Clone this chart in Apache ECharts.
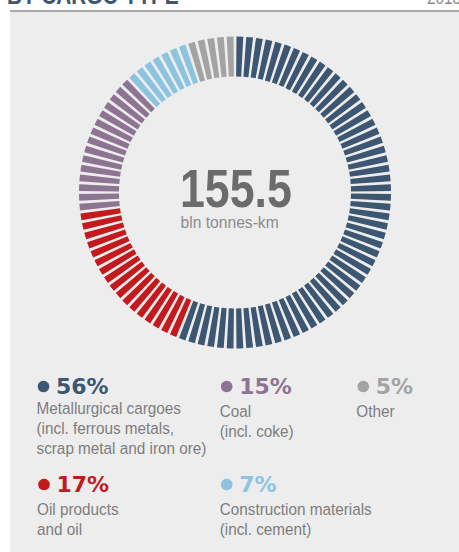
<!DOCTYPE html>
<html>
<head>
<meta charset="utf-8">
<script src="https://cdn.jsdelivr.net/npm/echarts@6/dist/echarts.min.js"></script>
<style>
  html, body { margin: 0; padding: 0; background: #fff; }
  #chart { width: 459px; height: 552px; }
</style>
</head>
<body>
<div id="chart"></div>
<script>
// cargo groups, clockwise from 12 o'clock
var categories = ['Metallurgical cargoes', 'Oil products', 'Coal', 'Construction materials', 'Other'];
var notes = ['(incl. ferrous metals,\nscrap metal and iron ore)', 'and oil', '(incl. coke)', '(incl. cement)', ''];
var shares = [56, 17, 15, 7, 5];
var colors = ['#3d5672', '#c41a1e', '#8e7493', '#8cc4e0', '#a3a3a3'];
var total = '155.5';
var unit = 'bln tonnes-km';
var heading = 'BY CARGO TYPE';
var year = '2018';

var SANS = '"Liberation Sans", Arial, sans-serif';

// legend slot per category: dot x, baseline of the % line, baseline of first text line
var slots = [
  [43.5, 394, 414],
  [44, 492, 515],
  [226.7, 394, 417],
  [226.7, 492, 515],
  [363.3, 394, 417]
];

var myChart = echarts.init(document.getElementById('chart'), null, { renderer: 'svg' });

// one slice per percent -> the ring of bars
var slices = [];
shares.forEach(function (s, i) {
  for (var k = 0; k < s; k++) {
    slices.push({ value: 1, name: categories[i], itemStyle: { color: colors[i] } });
  }
});

// text helper: place by baseline, squeeze horizontally to mimic a condensed face
function txt(x, base, str, size, color, weight, squeeze, family) {
  return {
    type: 'text', x: x, y: base - size * 0.35, silent: true,
    scaleX: squeeze || 1,
    style: {
      text: str, fill: color, fontSize: size, fontWeight: weight || 'normal',
      fontFamily: family || SANS, align: 'left', verticalAlign: 'middle'
    }
  };
}

var graphics = [
  { type: 'rect', shape: { x: 10, y: 12, width: 449, height: 540 }, style: { fill: '#ededed' }, silent: true },
  { type: 'rect', shape: { x: 10, y: 10, width: 449, height: 2 }, style: { fill: '#aaaaaa' }, silent: true },
  txt(7, 4, heading, 26, '#3d5672', 'bold', 0.8),
  txt(427, 4, year, 18, '#8a8a8a', 'normal', 0.85),
  txt(180, 207.3, total, 54.5, '#6b6b6b', 'bold', 0.82),
  txt(180.5, 227.3, unit, 17, '#8c8c8c', 'normal', 0.92)
];

categories.forEach(function (c, i) {
  var s = slots[i];
  graphics.push({
    type: 'circle', silent: true,
    shape: { cx: s[0], cy: s[1] - 7.5, r: 5.8 },
    style: { fill: colors[i] }
  });
  graphics.push(txt(s[0] + 12.5, s[1], shares[i] + '%', 22, colors[i], 'bold', 1, '"DejaVu Sans", sans-serif'));
  var lines = [c].concat(notes[i] ? notes[i].split('\n') : []);
  lines.forEach(function (ln, j) {
    graphics.push(txt(s[0] - 7, s[2] + j * 19.8, ln, 17, '#7d7d7d', 'normal', 0.9));
  });
});

var option = {
  backgroundColor: '#ffffff',
  animation: false,
  graphic: { elements: graphics },
  series: [{
    type: 'pie',
    z: 5,
    center: [235, 192.5],
    radius: [116, 156],
    startAngle: 90,
    clockwise: true,
    padAngle: 1.1,
    silent: true,
    label: { show: false },
    labelLine: { show: false },
    emphasis: { disabled: true },
    data: slices
  }]
};

myChart.setOption(option);
</script>
</body>
</html>
